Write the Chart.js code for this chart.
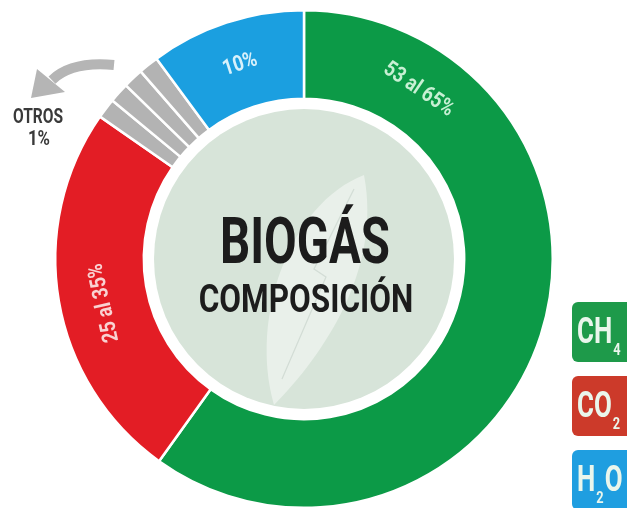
<!DOCTYPE html>
<html>
<head>
<meta charset="utf-8">
<script src="https://cdn.jsdelivr.net/npm/chart.js@4.4.1/dist/chart.umd.min.js"></script>
<style>
    html, body { margin: 0; padding: 0; background: #fff; overflow: hidden; }
    #biogasChart { display: block; }
</style>
</head>
<body>
<canvas id="biogasChart" width="627" height="512"></canvas>
<script>
// ================= DATA =================
const gases = ["CH4", "CO2", "Otros", "Otros", "Otros", "Otros", "H2O"];
const shares = [59.9, 24.8, 1.3, 1.3, 1.3, 1.3, 10.1];
const arcLabels = ["53 al 65%", "25 al 35%", "", "", "", "", "10%"];
const otrosLabel = ["OTROS", "1%"];
const legendItems = ["CH_4", "CO_2", "H_2O"];
const titleLines = ["BIOGÁS", "COMPOSICIÓN"];

// ================= STYLE =================
const ringColors = ["#0c9a47", "#e31d25", "#b3b3b3", "#b3b3b3", "#b3b3b3", "#b3b3b3", "#1b9fe0"];
const arcTextColors = ["#c8f0d4", "#f9d2d2", "", "", "", "", "#d8f1fb"];
const legendColors = ["#1e9a4a", "#cc3a2a", "#1f9ee0"];
const FONT = "Roboto, 'Liberation Sans', sans-serif";

// draw text squeezed horizontally (condensed look)
function squeezed(ctx, text, x, y, size, sx) {
    ctx.save();
    ctx.font = "bold " + size + "px " + FONT;
    ctx.translate(x, y);
    ctx.scale(sx, 1);
    ctx.fillText(text, 0, 0);
    ctx.restore();
}

const ringDecor = {
    id: "ringDecor",
    beforeDatasetsDraw(chart) {
        const ctx = chart.ctx;
        const arc = chart.getDatasetMeta(0).data[0];
        const cx = arc.x, cy = arc.y;
        // inner disc
        ctx.save();
        ctx.fillStyle = "#d7e4d9";
        ctx.beginPath();
        ctx.arc(cx, cy, 150, 0, Math.PI * 2);
        ctx.fill();
        // faint leaf
        ctx.fillStyle = "rgba(255,255,255,0.45)";
        ctx.beginPath();
        ctx.moveTo(cx + 60, cy - 84);
        ctx.bezierCurveTo(cx - 15, cy - 55, cx - 55, cy + 60, cx - 30, cy + 146);
        ctx.bezierCurveTo(cx + 20, cy + 95, cx + 78, cy + 10, cx + 60, cy - 84);
        ctx.fill();
        ctx.strokeStyle = "rgba(160,175,165,0.3)";
        ctx.lineWidth = 1.2;
        ctx.beginPath();
        ctx.moveTo(cx + 50, cy - 70);
        ctx.lineTo(cx + 10, cy + 10);
        ctx.lineTo(cx + 22, cy + 18);
        ctx.lineTo(cx - 22, cy + 120);
        ctx.stroke();
        ctx.restore();
        // the ring is cut flat at the top
        ctx.save();
        ctx.beginPath();
        ctx.rect(0, 11, chart.width, chart.height);
        ctx.clip();
    },
    afterDatasetsDraw(chart, args, opts) {
        const ctx = chart.ctx;
        ctx.restore();
        const meta = chart.getDatasetMeta(0);
        meta.data.forEach((a, i) => {
            if (!arcLabels[i]) return;
            const frac = opts.labelAt[i] ?? 0.5;
            const ang = a.startAngle + (a.endAngle - a.startAngle) * frac;
            const r = (a.innerRadius + a.outerRadius) / 2;
            ctx.save();
            ctx.translate(a.x + r * Math.cos(ang), a.y + r * Math.sin(ang));
            ctx.rotate(ang + Math.PI / 2);
            ctx.fillStyle = arcTextColors[i];
            ctx.textAlign = "center";
            ctx.textBaseline = "middle";
            squeezed(ctx, arcLabels[i], 0, 0, 22, 0.84);
            ctx.restore();
        });
    },
    afterDraw(chart) {
        const ctx = chart.ctx;
        const arc = chart.getDatasetMeta(0).data[0];
        const cx = arc.x;

        // center title
        ctx.save();
        ctx.fillStyle = "#1c1c1c";
        ctx.textAlign = "center";
        ctx.textBaseline = "alphabetic";
        squeezed(ctx, titleLines[0], cx + 1, 263, 64, 0.74);
        squeezed(ctx, titleLines[1], cx + 2, 312, 38, 0.83);

        // otros label
        ctx.fillStyle = "#3a3a3a";
        squeezed(ctx, otrosLabel[0], 38, 123, 21, 0.74);
        squeezed(ctx, otrosLabel[1], 39, 145, 21, 0.8);

        // curved arrow
        ctx.strokeStyle = "#b5b5b5";
        ctx.fillStyle = "#b5b5b5";
        ctx.lineWidth = 10;
        ctx.lineCap = "butt";
        ctx.beginPath();
        ctx.moveTo(114, 65);
        ctx.quadraticCurveTo(72, 61, 52, 80);
        ctx.stroke();
        ctx.beginPath();
        ctx.moveTo(37, 69);
        ctx.lineTo(65, 92);
        ctx.lineTo(31, 98);
        ctx.closePath();
        ctx.fill();

        // legend boxes
        legendItems.forEach((item, i) => {
            const top = 302 + i * 74;
            ctx.fillStyle = legendColors[i];
            ctx.beginPath();
            ctx.roundRect(572, top, 80, 60, 6);
            ctx.fill();
            ctx.fillStyle = "#eaf6ec";
            ctx.textAlign = "left";
            let x = 577;
            item.split(/(_\d)/).filter(s => s).forEach(part => {
                if (part[0] === "_") {
                    squeezed(ctx, part.slice(1), x, top + 53, 16, 0.8);
                    ctx.font = "bold 16px " + FONT;
                    x += ctx.measureText(part.slice(1)).width * 0.8 + 1;
                } else {
                    squeezed(ctx, part, x, top + 41, 37, 0.7);
                    ctx.font = "bold 37px " + FONT;
                    x += ctx.measureText(part).width * 0.7 + 1;
                }
            });
        });
        ctx.restore();
    }
};

new Chart(document.getElementById("biogasChart"), {
    type: "doughnut",
    data: {
        labels: gases,
        datasets: [{
            data: shares,
            backgroundColor: ringColors,
            borderColor: "#ffffff",
            borderWidth: 2.5
        }]
    },
    options: {
        responsive: false,
        animation: false,
        devicePixelRatio: 1,
        cutout: "64.4%",
        events: [],
        layout: {
            padding: { left: 54, right: 73, top: 9, bottom: 3 }
        },
        plugins: {
            legend: { display: false },
            tooltip: { enabled: false },
            ringDecor: { labelAt: [0.158, 0.47, 0.5, 0.5, 0.5, 0.5, 0.5] }
        }
    },
    plugins: [ringDecor]
});
</script>
</body>
</html>
